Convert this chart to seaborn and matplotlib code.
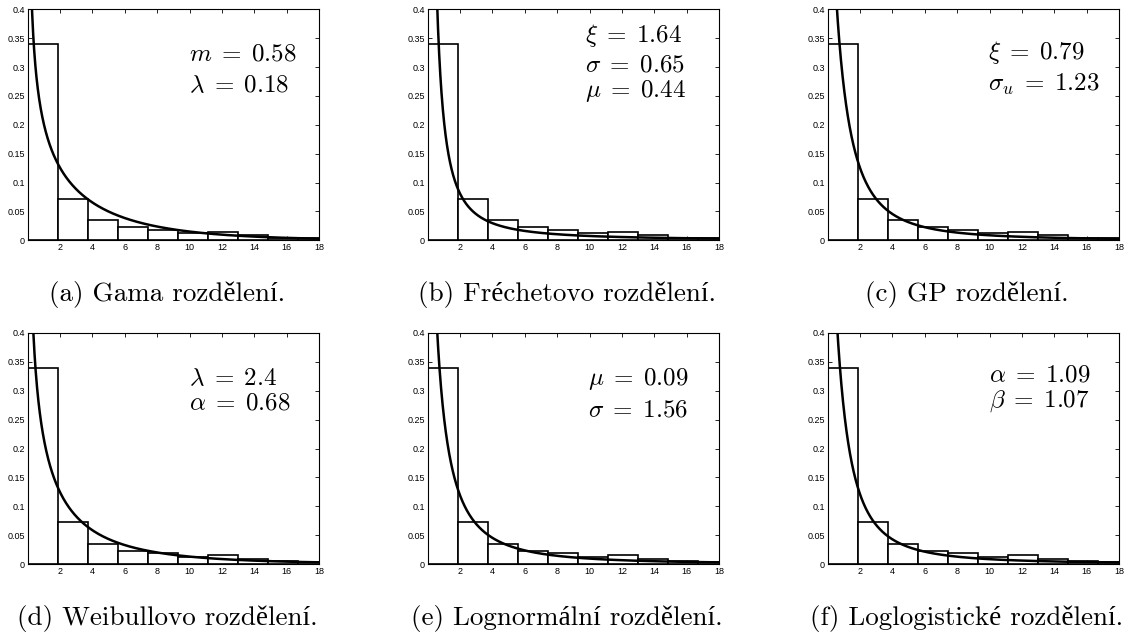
import math
import numpy as np
import pandas as pd
import matplotlib
matplotlib.use("Agg")
import matplotlib.pyplot as plt
import seaborn as sns

# ---------------- data ----------------
bin_edges = [0.0, 1.855, 3.71, 5.565, 7.42, 9.275, 11.13, 12.985, 14.84, 16.695, 18.55]
bar_heights = [0.340, 0.072, 0.035, 0.0226, 0.0186, 0.0122, 0.0150, 0.0090, 0.0045, 0.0035]

xtick_values = [2, 4, 6, 8, 10, 12, 14, 16, 18]
ytick_values = [0, 0.05, 0.1, 0.15, 0.2, 0.25, 0.3, 0.35, 0.4]
ytick_labels = ["0", "0.05", "0.1", "0.15", "0.2", "0.25", "0.3", "0.35", "0.4"]

captions = [
    "(a) Gama rozdělení.",
    "(b) Fréchetovo rozdělení.",
    "(c) GP rozdělení.",
    "(d) Weibullovo rozdělení.",
    "(e) Lognormální rozdělení.",
    "(f) Loglogistické rozdělení.",
]

param_labels = [
    [r"$m\;=\;0.58$", r"$\lambda\;=\;0.18$"],
    [r"$\xi\;=\;1.64$", r"$\sigma\;=\;0.65$", r"$\mu\;=\;0.44$"],
    [r"$\xi\;=\;0.79$", r"$\sigma_u\;=\;1.23$"],
    [r"$\lambda\;=\;2.4$", r"$\alpha\;=\;0.68$"],
    [r"$\mu\;=\;0.09$", r"$\sigma\;=\;1.56$"],
    [r"$\alpha\;=\;1.09$", r"$\beta\;=\;1.07$"],
]

gamma_params = (0.58, 0.18)          # shape m, rate lambda
frechet_params = (1.64, 0.65, 0.44)  # xi, sigma, mu
gp_params = (0.79, 1.23)             # xi, sigma_u
weibull_params = (2.4, 0.68)         # lambda (scale), alpha (shape)
lognormal_params = (0.09, 1.56)      # mu, sigma
loglogistic_params = (1.09, 1.07)    # alpha (scale), beta (shape)


# ---------------- fitted densities (from the displayed parameters) ----------------
def pdf_gamma(x, m, lam):
    return lam ** m * x ** (m - 1) * np.exp(-lam * x) / math.gamma(m)


def pdf_frechet(x, xi, s, mu):
    z = 1 + xi * (x - mu) / s
    out = np.full_like(x, np.nan)
    ok = z > 0
    t = z[ok] ** (-1 / xi)
    out[ok] = t ** (xi + 1) * np.exp(-t) / s
    return out


def pdf_gp(x, xi, s):
    return (1 / s) * (1 + xi * x / s) ** (-1 / xi - 1)


def pdf_weibull(x, lam, a):
    return (a / lam) * (x / lam) ** (a - 1) * np.exp(-(x / lam) ** a)


def pdf_lognormal(x, mu, s):
    return np.exp(-(np.log(x) - mu) ** 2 / (2 * s ** 2)) / (x * s * np.sqrt(2 * np.pi))


def pdf_loglogistic(x, a, b):
    r = x / a
    return (b / a) * r ** (b - 1) / (1 + r ** b) ** 2


xs = np.linspace(0.1, 18, 1500)
curves = [
    pdf_gamma(xs, *gamma_params),
    pdf_frechet(xs, *frechet_params),
    pdf_gp(xs, *gp_params),
    pdf_weibull(xs, *weibull_params),
    pdf_lognormal(xs, *lognormal_params),
    pdf_loglogistic(xs, *loglogistic_params),
]

# ---------------- style ----------------
sns.set_style("ticks")
plt.rcParams["mathtext.fontset"] = "cm"
plt.rcParams["font.family"] = ["Liberation Sans", "DejaVu Sans"]

W, H = 1126, 635
fig = plt.figure(figsize=(W / 100, H / 100), dpi=100)

col_left = [27.7, 427.7, 827.7]
ax_w = 291.3
row_top = [9.3, 333.0]
ax_h = 231.0

text_x = [0.554, 0.54, 0.55, 0.553, 0.552, 0.555]
text_y = [
    [0.78, 0.642],
    [0.859, 0.729, 0.62],
    [0.786, 0.649],
    [0.775, 0.667],
    [0.775, 0.638],
    [0.79, 0.68],
]
caption_x = [167, 567, 967]
caption_base = [301, 625]

bin_centers = [(bin_edges[i] + bin_edges[i + 1]) / 2 for i in range(len(bar_heights))]
hist_df = pd.DataFrame({"x": bin_centers, "h": bar_heights})

for i in range(6):
    r, c = divmod(i, 3)
    left = col_left[c] / W
    bottom = 1 - (row_top[r] + ax_h) / H
    ax = fig.add_axes([left, bottom, ax_w / W, ax_h / H])

    sns.histplot(data=hist_df, x="x", weights="h", bins=bin_edges, stat="count",
                 color="white", edgecolor="black", linewidth=1.2, alpha=1,
                 ax=ax)
    sns.lineplot(x=xs, y=curves[i], color="black", linewidth=1.8, ax=ax)

    ax.set_xlim(0, 18)
    ax.set_ylim(0, 0.4)
    ax.set_xticks(xtick_values)
    ax.set_xticklabels([str(v) for v in xtick_values])
    ax.set_yticks(ytick_values)
    ax.set_yticklabels(ytick_labels)
    ax.set_xlabel("")
    ax.set_ylabel("")
    ax.tick_params(direction="in", top=True, right=True, length=3, width=0.6,
                   labelsize=6.5, pad=2, colors="black")
    for sp in ax.spines.values():
        sp.set_visible(True)
        sp.set_linewidth(0.8)
        sp.set_color("black")

    for lbl, yy in zip(param_labels[i], text_y[i]):
        ax.text(text_x[i], yy, lbl, transform=ax.transAxes, fontsize=18,
                ha="left", va="baseline", color="black")

    fig.text(caption_x[c] / W, 1 - caption_base[r] / H, captions[i],
             fontsize=19.5, ha="center", va="baseline", color="black",
             family=["cmr10", "Liberation Serif"])

fig.savefig("out.png", dpi=100)
